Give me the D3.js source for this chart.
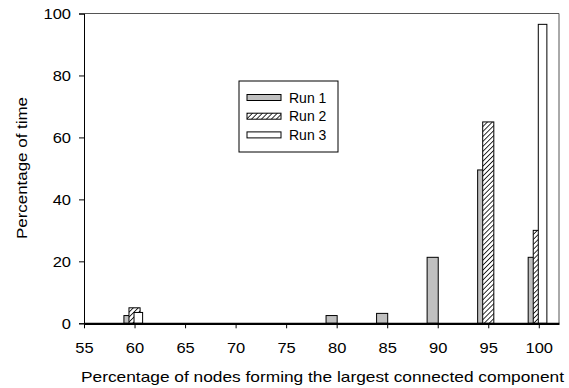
<!DOCTYPE html>
<meta charset="utf-8">
<title>Largest connected component</title>
<style>
body { margin: 0; background: #fff; }
text { font-family: "Liberation Sans", Arial, sans-serif; fill: #000; }
</style>
<body>
<script src="https://cdn.jsdelivr.net/npm/d3@7/dist/d3.min.js"></script>
<script>

var categories = [60, 80, 85, 90, 95, 100];
var run1 = [2.5, 2.5, 3.2, 21.3, 49.5, 21.3];
var run2 = [5, 0, 0, 0, 65, 30];
var run3 = [3.5, 0, 0, 0, 0, 96.5];
var seriesNames = ["Run 1", "Run 2", "Run 3"];
var xTicks = [55, 60, 65, 70, 75, 80, 85, 90, 95, 100];
var yTicks = [0, 20, 40, 60, 80, 100];

var w = 569, h = 388,
    m = {top: 13.5, right: 10, bottom: 64.7, left: 84};

var svg = d3.select("body").append("svg")
    .attr("width", w)
    .attr("height", h);

var defs = svg.append("defs");
defs.append("pattern")
    .attr("id", "hatch")
    .attr("patternUnits", "userSpaceOnUse")
    .attr("width", 3.5).attr("height", 3.5)
    .attr("patternTransform", "rotate(45)")
  .call(function(p) {
    p.append("rect").attr("width", 3.5).attr("height", 3.5).attr("fill", "#fff");
    p.append("line").attr("x1", 0).attr("y1", 0).attr("x2", 0).attr("y2", 3.5)
      .attr("stroke", "#000").attr("stroke-width", 1.6);
  });

var x = d3.scaleLinear().domain([55, 102]).range([m.left, w - m.right]);
var y = d3.scaleLinear().domain([0, 100]).range([h - m.bottom, m.top]);

var g = svg.append("g");

// frame (top and right)
g.append("path")
    .attr("d", "M" + x(55) + "," + y(100) + "H" + x(102) + "V" + y(0))
    .attr("fill", "none").attr("stroke", "#555").attr("stroke-width", 1);

// bars: [left offset, right offset] in x units, drawn in order
var series = [
  {vals: run1, lo: -1.05, hi: 0.05, fill: "#c0c0c0"},
  {vals: run2, lo: -0.55, hi: 0.55, fill: "url(#hatch)"},
  {vals: run3, lo: -0.05, hi: 0.8, fill: "#fff"}
];

series.forEach(function(s) {
  g.append("g").selectAll("rect")
    .data(categories.map(function(c, i) { return {c: c, v: s.vals[i]}; })
      .filter(function(d) { return d.v > 0; }))
    .enter().append("rect")
      .attr("x", function(d) { return x(d.c + s.lo); })
      .attr("width", function(d) { return x(d.c + s.hi) - x(d.c + s.lo); })
      .attr("y", function(d) { return y(d.v); })
      .attr("height", function(d) { return y(0) - y(d.v); })
      .attr("fill", s.fill)
      .attr("stroke", "#000")
      .attr("stroke-width", 1);
});

// y axis
var yAxis = g.append("g")
    .attr("transform", "translate(" + m.left + ",0)")
    .call(d3.axisLeft(y).tickValues(yTicks).tickSize(5).tickPadding(0));
yAxis.select(".domain").attr("stroke", "#000");
yAxis.selectAll("text")
    .attr("x", null)
    .attr("transform", "translate(-13,0)scale(1.1,1)")
    .style("font-size", "15px").attr("font-family", null);

// x axis
var xAxis = g.append("g")
    .attr("transform", "translate(0," + y(0) + ")")
    .call(d3.axisBottom(x).tickValues(xTicks).tickSize(5).tickPadding(14).tickSizeOuter(0));
xAxis.select(".domain").attr("stroke", "#000").attr("stroke-width", 2.2);
xAxis.selectAll("text")
    .attr("transform", "scale(1.1,1)")
    .style("font-size", "15px").attr("font-family", null);

// axis titles
svg.append("text")
    .attr("x", 81).attr("y", 382)
    .attr("textLength", 483)
    .attr("lengthAdjust", "spacingAndGlyphs")
    .style("font-size", "15px")
    .text("Percentage of nodes forming the largest connected component");

svg.append("text")
    .attr("transform", "translate(27,239)rotate(-90)")
    .attr("textLength", 142)
    .attr("lengthAdjust", "spacingAndGlyphs")
    .style("font-size", "15px")
    .text("Percentage of time");

// legend
var lg = svg.append("g").attr("transform", "translate(239,81)");
lg.append("rect")
    .attr("width", 99).attr("height", 71)
    .attr("fill", "#fff").attr("stroke", "#000").attr("stroke-width", 1);
var fills = series.map(function(s) { return s.fill; });
var rows = lg.selectAll("g.row").data(seriesNames).enter().append("g")
    .attr("transform", function(d, i) { return "translate(8," + (13.5 + i * 18.7) + ")"; });
rows.append("rect")
    .attr("width", 34).attr("height", 6)
    .attr("fill", function(d, i) { return fills[i]; })
    .attr("stroke", "#000").attr("stroke-width", 1);
rows.append("text")
    .attr("x", 42).attr("y", 8)
    .style("font-size", "14px")
    .text(function(d) { return d; });

</script>
</body>
